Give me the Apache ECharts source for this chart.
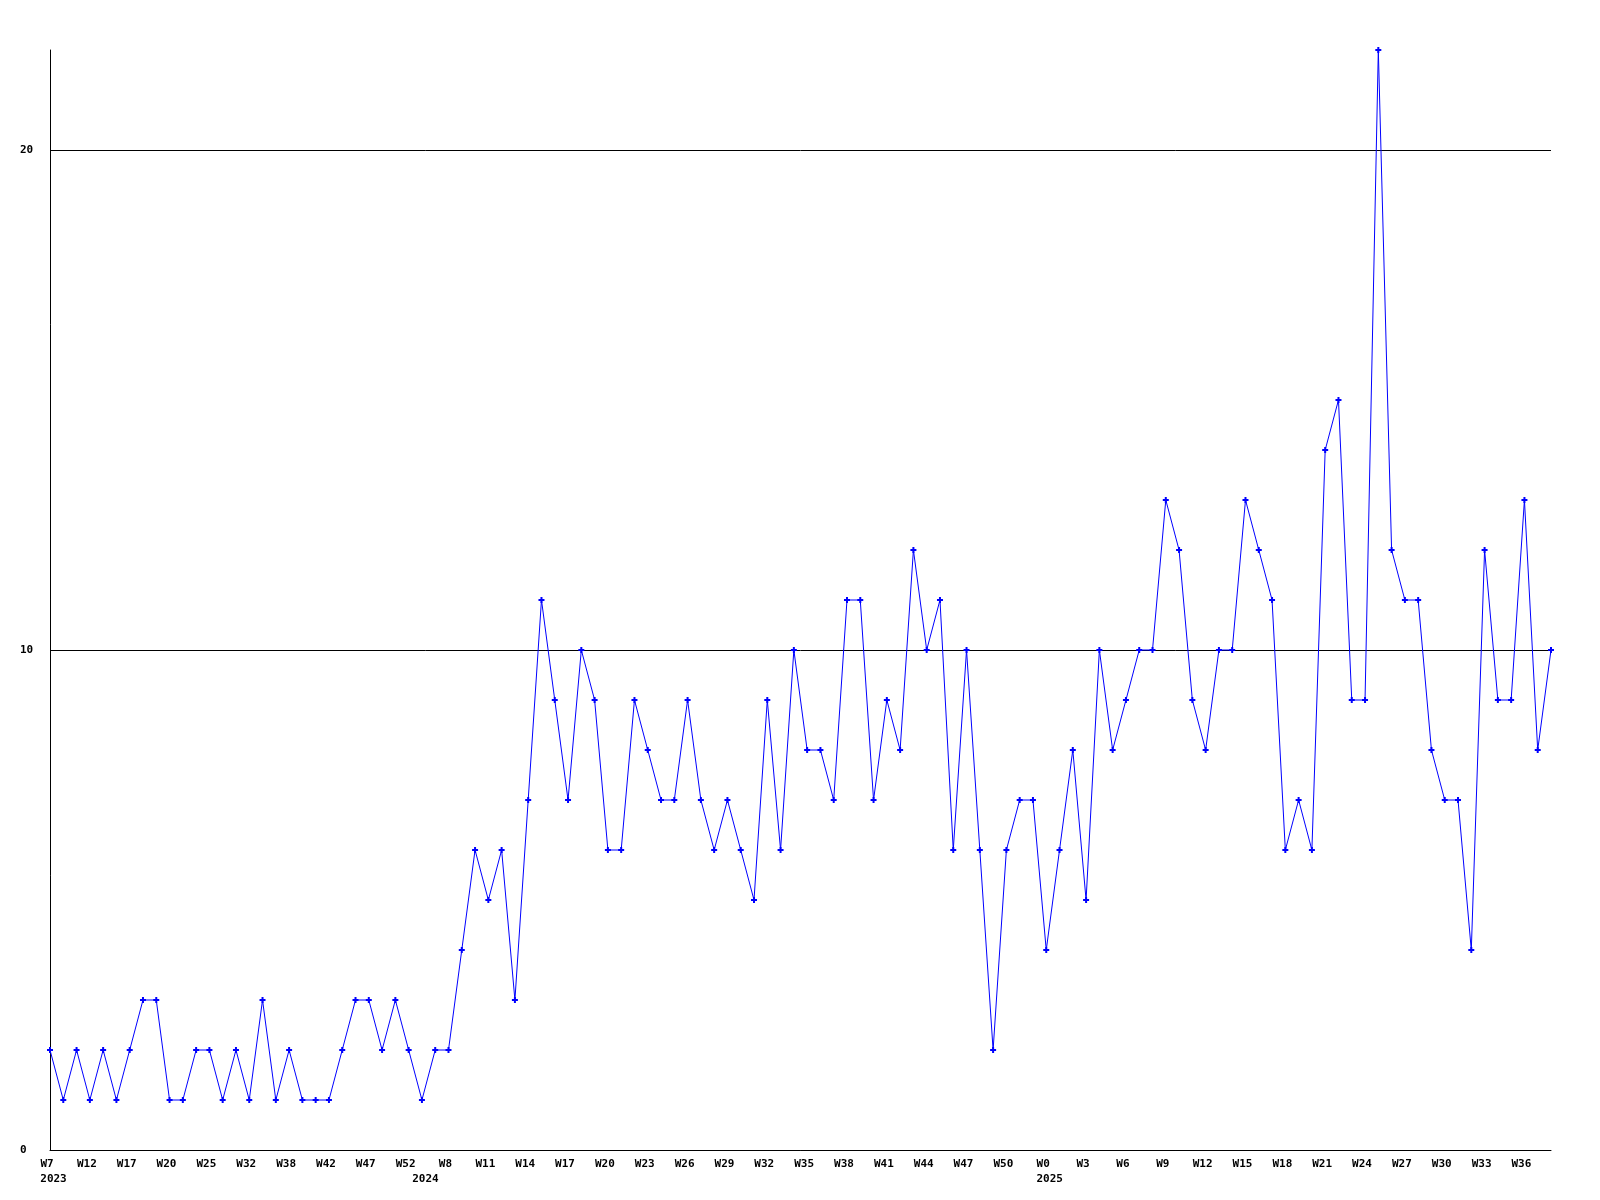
<!DOCTYPE html>
<html>
<head>
<meta charset="utf-8">
<script src="https://cdn.jsdelivr.net/npm/echarts@6/dist/echarts.min.js"></script>
<style>
html,body{margin:0;padding:0;background:#fff;}
#chart{width:1600px;height:1200px;}
</style>
</head>
<body>
<div id="chart"></div>
<script>
// Weekly values, one per point
const values = [
  2,1,2,1,2,1,2,3,3,1,
  1,2,2,1,2,1,3,1,2,1,
  1,1,2,3,3,2,3,2,1,2,
  2,4,6,5,6,3,7,11,9,7,
  10,9,6,6,9,8,7,7,9,7,
  6,7,6,5,9,6,10,8,8,7,
  11,11,7,9,8,12,10,11,6,10,
  6,2,6,7,7,4,6,8,5,10,
  8,9,10,10,13,12,9,8,10,10,
  13,12,11,6,7,6,14,15,9,9,
  22,12,11,11,8,7,7,4,12,9,
  9,13,8,10
];
// Week tick labels (shown on every third point)
const tickLabels = ['W7','W12','W17','W20','W25','W32','W38','W42','W47','W52','W8','W11','W14',
  'W17','W20','W23','W26','W29','W32','W35','W38','W41','W44','W47','W50','W0','W3','W6','W9',
  'W12','W15','W18','W21','W24','W27','W30','W33','W36'];
// Year labels and the point at which each year begins
const years = ['2023','2024','2025'];
const yearStart = [0, 28, 75];
// Y tick values
const yTicks = [0, 10, 20];

const categories = values.map((v, i) => (i % 3 === 0 ? tickLabels[i / 3] : ''));

const chart = echarts.init(document.getElementById('chart'), null, {renderer: 'canvas'});
const font = '"DejaVu Sans Mono", monospace';
const txt = {fontFamily: font, fontWeight: 'bold', fontSize: 11, color: '#000', lineHeight: 15};

chart.setOption({
  animation: false,
  backgroundColor: '#ffffff',
  grid: {left: 50, right: 49, top: 50, bottom: 50, containLabel: false},
  xAxis: {
    type: 'category',
    data: categories,
    boundaryGap: false,
    axisLine: {show: true, lineStyle: {color: '#000', width: 1}},
    axisTick: {show: false},
    splitLine: {show: false},
    axisLabel: Object.assign({
      interval: 0,
      margin: 7,
      verticalAlign: 'top',
      rich: {
        w: Object.assign({padding: [0, 6, 0, 0]}, txt),
        y: Object.assign({padding: [0, 0, 0, 7]}, txt)
      },
      formatter: function (val, idx) {
        const yi = yearStart.indexOf(idx);
        const w = val ? '{w|' + val + '}' : '';
        if (yi >= 0) return w + '\n{y|' + years[yi] + '}';
        return w;
      }
    }, txt)
  },
  yAxis: {
    type: 'value',
    min: 0,
    max: 22,
    interval: 10,
    axisLine: {show: true, lineStyle: {color: '#000', width: 1}},
    axisTick: {show: false},
    splitLine: {show: true, lineStyle: {color: ['#000', '#000', '#000', 'rgba(0,0,0,0)'], width: 1}},
    axisLabel: Object.assign({
      showMaxLabel: false,
      margin: 30,
      align: 'left',
      formatter: function (v) { return yTicks.indexOf(v) >= 0 ? String(v) : ''; }
    }, txt)
  },
  series: [{
    type: 'line',
    data: values,
    showAllSymbol: true,
    symbol: 'path://M2,0h2v2h2v2h-2v2h-2v-2h-2v-2h2z',
    symbolSize: 6,
    itemStyle: {color: '#0000ff'},
    lineStyle: {color: '#0000ff', width: 1},
    emphasis: {disabled: true}
  }]
});
</script>
</body>
</html>
